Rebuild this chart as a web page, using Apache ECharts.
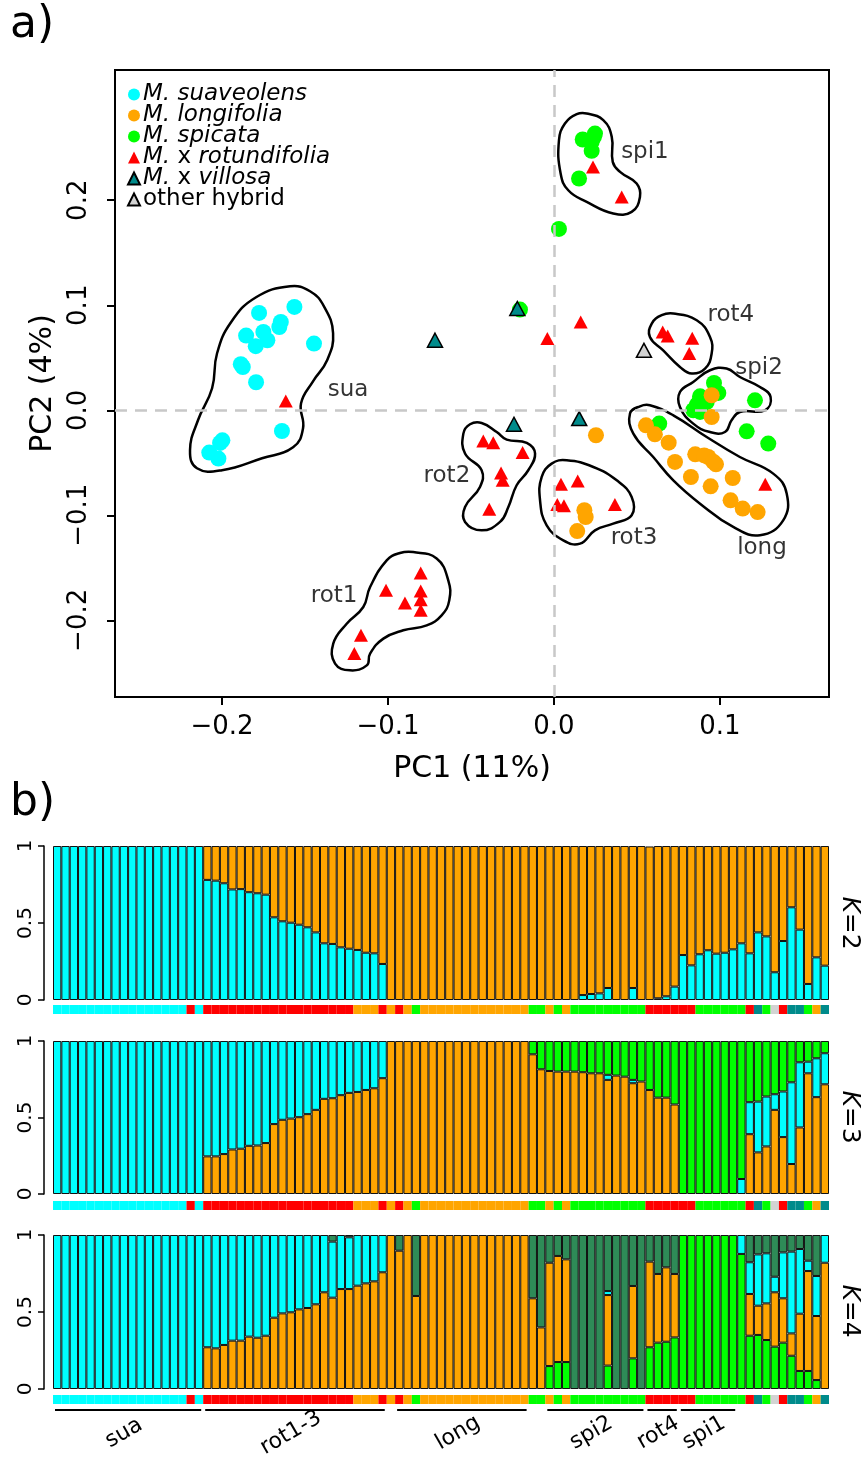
<!DOCTYPE html>
<html>
<head>
<meta charset="utf-8">
<script src="https://cdn.jsdelivr.net/npm/echarts@6/dist/echarts.min.js"></script>
<style>html,body{margin:0;padding:0;background:#fff}#main{width:867px;height:1483px}</style>
</head>
<body>
<div id="main"></div>
<script>
// Mentha PCA (a) + STRUCTURE barplots K=2..4 (b)

var FONT = 'DejaVu Sans';
var COL = {S:'#00FFFF', L:'#FFA500', G:'#00FF00', R:'#FF0000', V:'#008B8B', O:'#D3D3D3', D:'#2E8B57'};

// ---- panel a : PC1 / PC2 scores per taxon ----
var suaPts = [[-0.1564,0.0984],[-0.1777,0.0927],[-0.1646,0.0841],[-0.1655,0.0793],[-0.1751,0.0746],[-0.1855,0.0711],
  [-0.1727,0.0667],[-0.1797,0.0610],[-0.1446,0.0635],[-0.1887,0.0438],[-0.1875,0.0412],[-0.1795,0.0267],
  [-0.1639,-0.0197],[-0.1998,-0.0286],[-0.2012,-0.0311],[-0.2077,-0.0403],[-0.2022,-0.0460]];
var spiPts = [[0.0173,0.2578],[0.0247,0.2635],[0.0227,0.2555],[0.0227,0.2470],[0.0240,0.2600],[0.0151,0.2207],[0.0030,0.1727],
  [-0.0205,0.0959],[0.0964,0.0260],[0.0990,0.0165],[0.0880,0.0133],[0.0920,0.0079],[0.0860,0.0048],[0.0839,0.0],
  [0.0880,-0.0016],[0.0900,0.0110],[0.0870,0.0070],[0.1211,0.0095],[0.0634,-0.0127],[0.1161,-0.0200],[0.1291,-0.0317]];
var longPts = [[0.0950,0.0143],[0.0950,-0.0064],[0.0253,-0.0238],[0.0554,-0.0143],[0.0608,-0.0229],[0.0691,-0.0308],
  [0.0729,-0.0492],[0.0851,-0.0419],[0.0930,-0.0445],[0.0905,-0.0430],[0.0976,-0.0514],[0.0960,-0.0490],[0.0825,-0.0635],
  [0.0944,-0.0724],[0.1077,-0.0645],[0.1064,-0.0857],[0.1137,-0.0936],[0.1227,-0.0969],[0.0183,-0.0952],[0.0191,-0.1016],[0.0140,-0.1150]];
var rotPts = [[-0.1616,0.0089],[0.0235,0.2317],[0.0408,0.2031],[0.0161,0.0841],[-0.0040,0.0683],
  [0.0655,0.0746],[0.0685,0.0708],[0.0833,0.0686],[0.0815,0.0540],[0.1273,-0.0705],
  [0.0042,-0.0705],[0.0143,-0.0673],[0.0020,-0.0898],[0.0060,-0.0908],[0.0367,-0.0898],
  [-0.0426,-0.0292],[-0.0366,-0.0308],[-0.0189,-0.0403],[-0.0319,-0.0597],[-0.0309,-0.0667],[-0.0390,-0.0943],
  [-0.0803,-0.1550],[-0.1012,-0.1714],[-0.0803,-0.1721],[-0.0898,-0.1835],[-0.0803,-0.1803],[-0.0803,-0.1905],
  [-0.1163,-0.2143],[-0.1203,-0.2317]];
var vilPts = [[-0.0717,0.0667],[-0.0221,0.0969],[-0.0241,-0.0133],[0.0152,-0.0079]];
var hybPts = [[0.0542,0.0571]];

// cluster outlines (PC1, PC2) and their labels
var hullSua = [[-0.1590,0.1181],[-0.1795,0.1076],[-0.1946,0.0838],[-0.2030,0.0543],[-0.2060,0.0210],[-0.2145,-0.0095],
  [-0.2193,-0.0381],[-0.2151,-0.0552],[-0.2000,-0.0571],[-0.1759,-0.0457],[-0.1572,-0.0352],[-0.1512,-0.0171],
  [-0.1524,0.0067],[-0.1452,0.0276],[-0.1367,0.0476],[-0.1331,0.0733],[-0.1386,0.0990],[-0.1470,0.1133]];
var hullSpi1 = [[0.0197,0.2826],[0.0297,0.2762],[0.0348,0.2603],[0.0354,0.2365],[0.0398,0.2270],[0.0498,0.2159],
  [0.0518,0.2031],[0.0468,0.1889],[0.0357,0.1873],[0.0197,0.1984],[0.0086,0.2095],[0.0040,0.2254],[0.0030,0.2571],
  [0.0066,0.2730],[0.0137,0.2819]];
var hullRot4 = [[0.0719,0.0921],[0.0860,0.0857],[0.0940,0.0698],[0.0950,0.0540],[0.0910,0.0397],[0.0830,0.0350],
  [0.0759,0.0413],[0.0658,0.0571],[0.0578,0.0698],[0.0589,0.0826],[0.0649,0.0905]];
var hullSpi2 = [[0.0940,0.0381],[0.1040,0.0397],[0.1120,0.0317],[0.1241,0.0222],[0.1305,0.0127],[0.1271,0.0],
  [0.1120,-0.0016],[0.1070,-0.0095],[0.1030,-0.0207],[0.0940,-0.0207],[0.0839,-0.0127],[0.0759,0.0031],
  [0.0759,0.0174],[0.0839,0.0270]];
var hullLong = [[0.0578,0.0048],[0.0719,-0.0048],[0.0920,-0.0254],[0.1120,-0.0445],[0.1321,-0.0603],[0.1402,-0.0793],
  [0.1381,-0.1048],[0.1241,-0.1190],[0.1080,-0.1111],[0.0880,-0.0889],[0.0719,-0.0667],[0.0598,-0.0445],
  [0.0478,-0.0222],[0.0458,-0.0031],[0.0518,0.0038]];
var hullRot3 = [[0.0077,-0.0476],[0.0237,-0.0540],[0.0378,-0.0667],[0.0468,-0.0826],[0.0468,-0.1000],[0.0357,-0.1079],
  [0.0247,-0.1143],[0.0157,-0.1270],[0.0056,-0.1238],[-0.0044,-0.1095],[-0.0084,-0.0857],[-0.0074,-0.0635],[-0.0014,-0.0508]];
var hullRot2 = [[-0.0436,-0.0121],[-0.0345,-0.0207],[-0.0285,-0.0279],[-0.0164,-0.0311],[-0.0114,-0.0412],
  [-0.0155,-0.0571],[-0.0225,-0.0714],[-0.0275,-0.0921],[-0.0325,-0.1063],[-0.0436,-0.1143],[-0.0536,-0.1063],
  [-0.0536,-0.0921],[-0.0446,-0.0730],[-0.0436,-0.0571],[-0.0536,-0.0412],[-0.0546,-0.0222],[-0.0506,-0.0133]];
var hullRot1 = [[-0.0848,-0.1350],[-0.0707,-0.1412],[-0.0637,-0.1619],[-0.0631,-0.1810],[-0.0677,-0.1952],
  [-0.0767,-0.2048],[-0.0908,-0.2095],[-0.1028,-0.2174],[-0.1108,-0.2317],[-0.1128,-0.2429],[-0.1229,-0.2476],
  [-0.1319,-0.2412],[-0.1330,-0.2222],[-0.1249,-0.2032],[-0.1149,-0.1873],[-0.1108,-0.1683],[-0.1008,-0.1429],[-0.0928,-0.1359]];
var hulls = [hullSua, hullSpi1, hullRot4, hullSpi2, hullLong, hullRot3, hullRot2, hullRot1];
var hullLabels = [[-0.1241,0.019,'sua'],[0.0548,0.2457,'spi1'],[0.1066,0.0905,'rot4'],[0.1235,0.040,'spi2'],
  [-0.0645,-0.0629,'rot2'],[0.0482,-0.1219,'rot3'],[0.1253,-0.1314,'long'],[-0.1325,-0.1771,'rot1']];

var pcTicks = [-0.2, -0.1, 0, 0.1];
var pcTicksY = [-0.2, -0.1, 0, 0.1, 0.2];

// ---- panel b : sample taxon codes and ancestry proportions ----
var sampleCode = ('SSSSSSSSSSSSSSSSRS' + 'RRRRRRRRRRRRRRRRRR' + 'LLLRLRLG' + 'LLLLLLLLLLLLL' + 'GGLGL' +
  'GGGGGGGGG' + 'RRRRRR' + 'GGGGGG' + 'RVGORVVGLV').split('');

var k2Cyan = [1,1,1,1,1,1,1,1,1,1,1,1,1,1,1,1,1,1,
  0.78,0.775,0.758,0.718,0.72,0.70,0.693,0.684,0.537,0.511,0.502,0.489,0.472,0.439,0.368,0.364,0.342,0.333,0.325,0.307,0.303,0.234,
  0,0,0,0,0,0,0,0,0,0,0,0,0,0,0,0,0,0,0,0,0,0,0,
  0.032,0.039,0.043,0.078,0,0,0.078,0,0.003,0.011,0.024,0.087,0.292,0.225,0.297,0.323,0.301,0.307,0.329,0.368,
  0.303,0.439,0.413,0.18,0.383,0.602,0.457,0.104,0.277,0.223];

var k3Orange = [0,0,0,0,0,0,0,0,0,0,0,0,0,0,0,0,0,0,
  0.246,0.246,0.261,0.291,0.296,0.315,0.317,0.333,0.457,0.485,0.493,0.502,0.522,0.55,0.622,0.626,0.646,0.661,0.667,0.68,0.691,0.757,
  1,1,1,1,1,1,1,1,1,1,1,1,1,1,1,1,1,
  0.913,0.815,0.804,0.80,0.80,0.80,0.796,0.789,0.789,0.746,0.774,0.767,0.724,0.735,0.68,0.63,0.63,0.585,
  0,0,0,0,0,0,0,0,
  0.391,0.272,0.311,0.55,0.372,0.196,0.435,0.789,0.633,0.717];
var k3Cyan = [1,1,1,1,1,1,1,1,1,1,1,1,1,1,1,1,1,1,
  0.754,0.754,0.739,0.709,0.704,0.685,0.683,0.667,0.543,0.515,0.507,0.498,0.478,0.45,0.378,0.374,0.354,0.339,0.333,0.32,0.309,0.243,
  0,0,0,0,0,0,0,0,0,0,0,0,0,0,0,0,0,0,0,0,0,0,0,0,0,0,
  0.033,0,0,0.022,0,0,0,0,0,0,0,0,0,0,0,0,
  0.098,0.209,0.332,0.326,0.102,0.298,0.534,0.426,0.076,0.254,0.203];

var k4Green = [0,0,0,0,0,0,0,0,0,0,0,0,0,0,0,0,0,0,0,0,0,0,0,0,0,0,0,0,0,0,
  0,0,0,0,0,0,0,0,0,0,0,0,0,0,0,0,0,0,0,0,0,0,0,0,0,0,0,0,0,
  0.149,0.175,0.175,0,0,0,0,0.152,0,0,0.199,0,0.271,0.301,0.307,0.335,
  1,1,1,1,1,1,1,0.877,0.346,0.351,0.318,0.275,0.301,0.216,0.117,0.117,0.058,0];
var k4Orange = [0,0,0,0,0,0,0,0,0,0,0,0,0,0,0,0,0,0,
  0.271,0.264,0.286,0.314,0.314,0.340,0.333,0.346,0.463,0.491,0.498,0.517,0.526,0.55,0.628,0.593,0.649,0.649,0.671,0.686,0.699,0.758,
  1,0.898,1,0.604,1,1,1,1,1,1,1,1,1,1,1,1,1,
  0.589,0.40,0.671,0.689,0.667,0,0,0,0,0.458,0,0,0.470,0,0.556,0.446,0.483,0.412,
  0,0,0,0,0,0,0,0,
  0.271,0.190,0.238,0.353,0.288,0.145,0.372,0.649,0.416,0.820];
var k4Cyan = [1,1,1,1,1,1,1,1,1,1,1,1,1,1,1,1,1,1,
  0.729,0.736,0.714,0.686,0.686,0.660,0.667,0.654,0.537,0.509,0.502,0.483,0.474,0.45,0.372,0.364,0.351,0.336,0.329,0.314,0.301,0.242,
  0,0,0,0,0,0,0,0,0,0,0,0,0,0,0,0,0,0,0,0,0,0,0,0,0,0,
  0.026,0,0,0,0,0,0,0,0,0,0,0,0,0,0,0,
  0.123,0.206,0.333,0.325,0.101,0.298,0.531,0.420,0.067,0.260,0.180];

var groupNames = ['sua', 'rot1-3', 'long', 'spi2', 'rot4', 'spi1'];
var groupFrom  = [0, 18, 41, 59, 71, 75];
var groupTo    = [17, 39, 56, 70, 74, 81];

// ---------------------------------------------------------------
var idx = sampleCode.map(function(c, i){ return String(i); });
function nz(v){ return v > 0.004 ? v : null; }
function rest(){
  var arrs = Array.prototype.slice.call(arguments);
  return idx.map(function(_, i){
    var s = 0; arrs.forEach(function(a){ s += a[i]; });
    return nz(1 - s);
  });
}
function fmtPC(v){ return (v < 0 ? '\u2212' : '') + Math.abs(v).toFixed(1); }

var BARS = [
  {top:846, h:154, strip:1005, layers:[[k2Cyan,'S'], [rest(k2Cyan),'L']], k:'2', lab:923},
  {top:1041, h:153, strip:1201, layers:[[k3Orange,'L'], [k3Cyan,'S'], [rest(k3Orange,k3Cyan),'G']], k:'3', lab:1117},
  {top:1235, h:154, strip:1395, layers:[[k4Green,'G'], [k4Orange,'L'], [k4Cyan,'S'], [rest(k4Green,k4Orange,k4Cyan),'D']], k:'4', lab:1311}
];

var grids = [{left:115, top:70, width:714, height:627, show:true, borderColor:'#000', borderWidth:2}];
var xAxes = [{
  type:'value', gridIndex:0, min:-0.2645, max:0.1657,
  axisLine:{show:false, onZero:false}, splitLine:{show:false},
  axisTick:{customValues:pcTicks, length:8, lineStyle:{color:'#000', width:2}},
  axisLabel:{customValues:pcTicks, formatter:fmtPC, color:'#000', fontFamily:FONT, fontSize:26, margin:17},
  name:'PC1 (11%)', nameLocation:'middle', nameGap:57, nameTextStyle:{fontFamily:FONT, fontSize:30, color:'#000'}
}];
var yAxes = [{
  type:'value', gridIndex:0, min:-0.273, max:0.324,
  axisLine:{show:false, onZero:false}, splitLine:{show:false},
  axisTick:{customValues:pcTicksY, length:8, lineStyle:{color:'#000', width:2}},
  axisLabel:{customValues:pcTicksY, formatter:fmtPC, rotate:90, color:'#000', fontFamily:FONT, fontSize:26, margin:23},
  name:'PC2 (4%)', nameLocation:'middle', nameGap:52, nameTextStyle:{fontFamily:FONT, fontSize:30, color:'#000'}
}];

var series = [];

// dashed zero lines
series.push({
  type:'line', xAxisIndex:0, yAxisIndex:0, data:[], silent:true, z:1,
  markLine:{symbol:'none', silent:true, label:{show:false},
    lineStyle:{color:'#C8C8C8', type:[12,8], width:2.5},
    data:[{xAxis:0}, {yAxis:0}]}
});
// cluster outlines
series.push({
  type:'custom', xAxisIndex:0, yAxisIndex:0, silent:true, z:2,
  data: hulls.map(function(h, i){ return [h[0][0], h[0][1], i]; }),
  renderItem:function(p, api){
    var pts = hulls[api.value(2)].map(function(pt){ return api.coord(pt); });
    return {type:'polygon', shape:{points:pts, smooth:0.45},
      style:{fill:null, stroke:'#000', lineWidth:2.5}};
  }
});
series.push({
  type:'scatter', xAxisIndex:0, yAxisIndex:0, silent:true, z:3, symbolSize:1,
  itemStyle:{color:'rgba(0,0,0,0)'},
  data: hullLabels,
  label:{show:true, position:'inside', formatter:function(p){ return p.value[2]; },
    fontFamily:FONT, fontSize:23, color:'#000', textBorderWidth:0}
});

function pts(name, data, sym, color, size, border){
  series.push({
    name:name, type:'scatter', xAxisIndex:0, yAxisIndex:0, data:data, symbol:sym, symbolSize:size, z:4,
    itemStyle:{color:color, opacity:1, borderColor: border ? '#000' : color, borderWidth: border ? 1.5 : 0}
  });
}
pts('M. suaveolens', suaPts, 'circle', COL.S, 16, false);
pts('M. spicata', spiPts, 'circle', COL.G, 16, false);
pts('M. longifolia', longPts, 'circle', COL.L, 16, false);
pts('M. x rotundifolia', rotPts, 'triangle', COL.R, [14,13], false);
pts('M. x villosa', vilPts, 'triangle', COL.V, [15,14], true);
pts('other hybrid', hybPts, 'triangle', COL.O, [15,14], true);

// bar panels
var graphics = [
  {type:'text', left:10, top:4, style:{text:'a)', font:'44px ' + FONT, fill:'#000'}},
  {type:'text', left:10, top:782, style:{text:'b)', font:'44px ' + FONT, fill:'#000'}}
];
BARS.forEach(function(B){
  var gi = grids.length;
  grids.push({left:53, width:776, top:B.top, height:B.h});
  xAxes.push({type:'category', gridIndex:gi, data:idx, show:false});
  yAxes.push({type:'value', gridIndex:gi, min:0, max:1, interval:0.5, offset:9,
    axisLine:{show:true, lineStyle:{color:'#000', width:1.5}},
    axisTick:{show:true, length:6, lineStyle:{color:'#000', width:1.5}},
    splitLine:{show:false},
    axisLabel:{rotate:90, margin:8, color:'#000', fontFamily:FONT, fontSize:20,
      formatter:function(v){ return v === 0.5 ? '0.5' : String(v); }}});
  B.layers.forEach(function(L){
    series.push({type:'bar', xAxisIndex:gi, yAxisIndex:gi, stack:'k' + B.k, barWidth:'100%', silent:true,
      data:L[0].map(nz), itemStyle:{color:COL[L[1]], borderColor:'#111', borderWidth:1}});
  });
  // taxon colour strip
  var si = grids.length;
  grids.push({left:53, width:776, top:B.strip, height:9});
  xAxes.push({type:'category', gridIndex:si, data:idx, show:false});
  yAxes.push({type:'value', gridIndex:si, min:0, max:1, show:false});
  series.push({type:'bar', xAxisIndex:si, yAxisIndex:si, barWidth:'100%', silent:true,
    data:sampleCode.map(function(c){ return {value:1, itemStyle:{color:COL[c]}}; })});
  graphics.push({type:'text', x:849, y:B.lab, rotation:-Math.PI/2,
    style:{text:'{i|K}=' + B.k, font:'25px ' + FONT, fill:'#000', align:'center', verticalAlign:'middle',
      rich:{i:{fontStyle:'italic', fontFamily:FONT, fontSize:25, fill:'#000'}}}});
});

// group underlines + labels
var gg = grids.length;
grids.push({left:53, width:776, top:1405, height:10});
xAxes.push({type:'category', gridIndex:gg, data:idx, show:false});
yAxes.push({type:'value', gridIndex:gg, min:0, max:1, show:false});
series.push({
  type:'custom', xAxisIndex:gg, yAxisIndex:gg, silent:true,
  data: groupFrom.map(function(s, i){ return [s, groupTo[i]]; }),
  renderItem:function(p, api){
    var a = api.coord([api.value(0), 0.5]);
    var b = api.coord([api.value(1), 0.5]);
    var w = api.size([1, 0])[0];
    var x0 = a[0] - w/2 + 2, x1 = b[0] + w/2 - 2, y = a[1];
    return {type:'group', children:[
      {type:'line', shape:{x1:x0, y1:y, x2:x1, y2:y}, style:{stroke:'#000', lineWidth:2}},
      {type:'text', x:(x0 + x1)/2 - 4, y:y + 23, rotation:Math.PI/6,
        style:{text:groupNames[p.dataIndex], font:'22px ' + FONT, fill:'#000', align:'center', verticalAlign:'middle'}}
    ]};
  }
});

var chart = echarts.init(document.getElementById('main'), null, {renderer:'canvas'});
chart.setOption({
  animation:false,
  backgroundColor:'#fff',
  textStyle:{fontFamily:FONT},
  grid:grids, xAxis:xAxes, yAxis:yAxes,
  legend:{
    data:['M. suaveolens','M. longifolia','M. spicata','M. x rotundifolia','M. x villosa','other hybrid'],
    orient:'vertical', left:122, top:78, itemWidth:12, itemHeight:12, itemGap:-2, selectedMode:false,
    formatter:function(n){
      if (n === 'other hybrid') return n;
      if (n.indexOf(' x ') > 0) return '{i|M.} x {i|' + n.split(' x ')[1] + '}';
      return '{i|' + n + '}';
    },
    textStyle:{fontFamily:FONT, fontSize:23, color:'#000', lineHeight:17, padding:[0,0,0,-2],
      rich:{i:{fontStyle:'italic', fontFamily:FONT, fontSize:23, color:'#000', lineHeight:17}}}
  },
  graphic:graphics,
  series:series
});
</script>
</body>
</html>
